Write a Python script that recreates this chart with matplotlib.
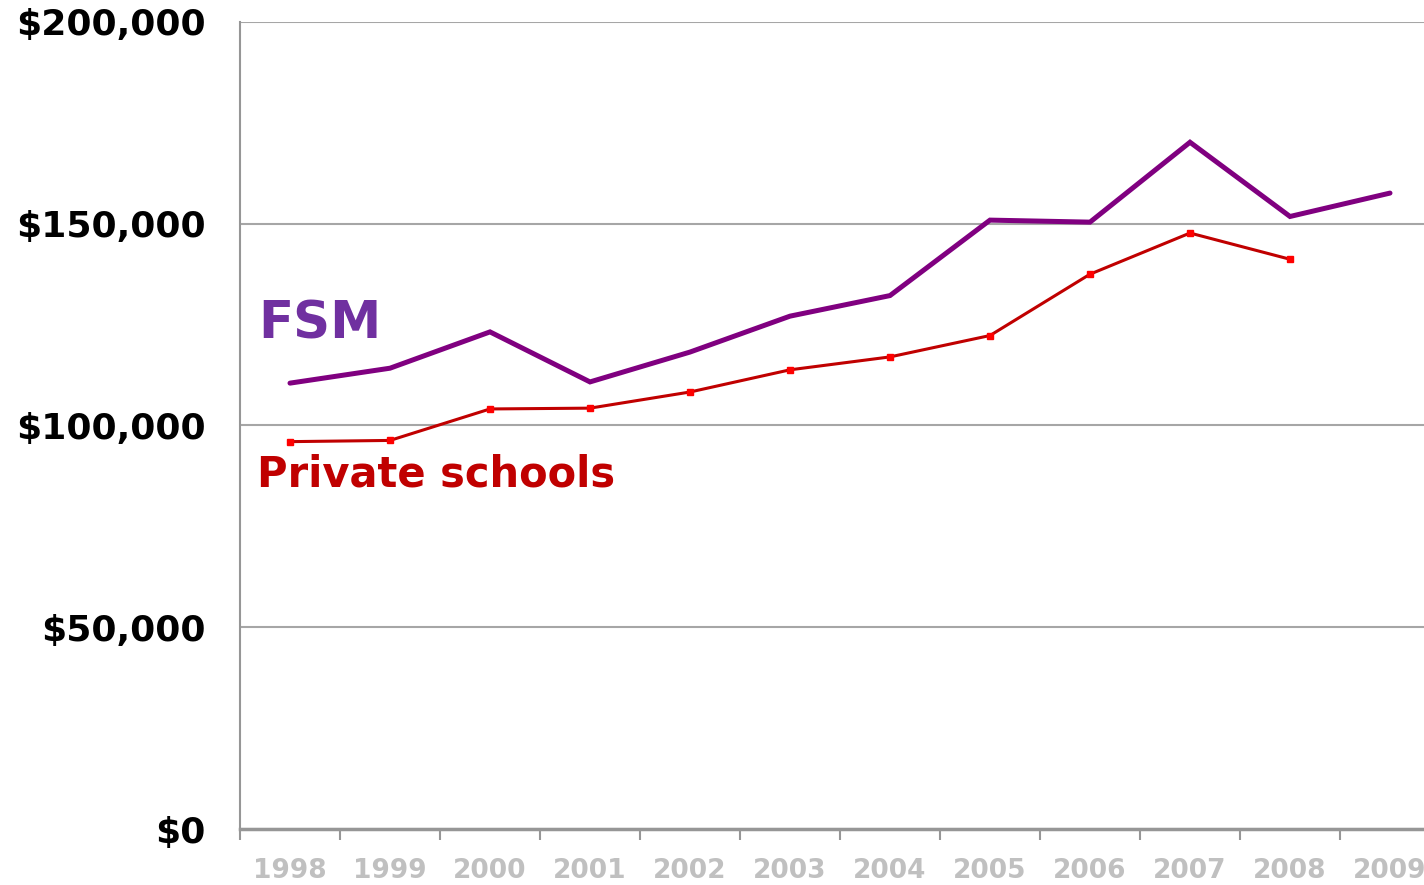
import numpy as np
import matplotlib
matplotlib.use("Agg")
import matplotlib.pyplot as plt

years = ['1998', '1999', '2000', '2001', '2002', '2003', '2004', '2005', '2006', '2007', '2008', '2009']
fsm = [110500, 114200, 123200, 110800, 118200, 127100, 132200, 150900, 150400, 170200, 151800, 157600]
private = [96000, 96300, 104100, 104300, 108300, 113800, 117000, 122300, 137500, 147700, 141200]
yticks = [0, 50000, 100000, 150000, 200000]
ylabels = ['$0', '$50,000', '$100,000', '$150,000', '$200,000']

plt.rcParams['font.family'] = ['DejaVu Sans']
fig = plt.figure(figsize=(14.24, 8.85), dpi=100)
# axes runs past the right edge of the figure, like the original (2009 is clipped)
ax = fig.add_axes([240/1424, (885-829)/885, 1200/1424, (829-22)/885])

x = np.arange(len(years))
ax.plot(x, fsm, color='#800080', lw=3.6, solid_capstyle='round', solid_joinstyle='miter', zorder=3)
ax.plot(x[:len(private)], private, color='#C00000', lw=2.2, marker='s', markersize=3.8,
        markerfacecolor='#FF0000', markeredgecolor='#FF0000', zorder=3)

ax.set_xlim(-0.5, len(years) - 0.5)
ax.set_ylim(0, 200000)
ax.set_yticks(yticks)
ax.set_yticklabels(ylabels, fontsize=26, fontweight='bold', color='black')
ax.tick_params(axis='y', length=0, pad=25)
ax.yaxis.grid(True, color='#A6A6A6', lw=1.5)

ax.set_xticks(x)
ax.set_xticklabels(years, fontsize=19, fontweight='bold', color='#C0C0C0')
ax.set_xticks(np.arange(-0.5, len(years), 1), minor=True)
ax.tick_params(axis='x', which='major', length=0, pad=21)
ax.tick_params(axis='x', which='minor', length=8, width=1.5, color='#969696', direction='out')

for s in ['top', 'right']:
    ax.spines[s].set_visible(False)
ax.spines['left'].set_color('#969696')
ax.spines['left'].set_linewidth(1.5)
ax.spines['bottom'].set_color('#969696')
ax.spines['bottom'].set_linewidth(2.5)
ax.set_axisbelow(True)

ax.text(-0.32, 121500, 'FSM', color='#7030A0', fontsize=37, fontweight='bold', va='baseline')
ax.text(-0.33, 84800, 'Private schools', color='#C00000', fontsize=30, fontweight='bold', va='baseline')

fig.savefig('out.png', dpi=100)
